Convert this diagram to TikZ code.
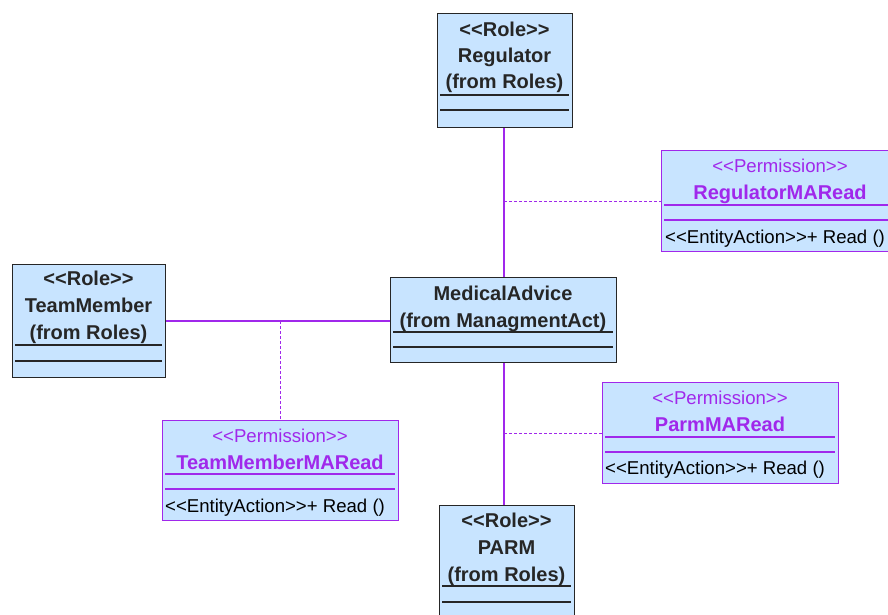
\documentclass[tikz,border=0pt]{standalone}
\usepackage{fontspec}
\setmainfont{Liberation Sans}[Ligatures=TeXOff]
\begin{document}
\begin{tikzpicture}[x=1pt,y=-1pt,
  roleb/.style={draw=black!85, line width=1.2pt, fill=boxfill, anchor=north west, inner sep=0pt},
  permb/.style={draw=umlpurple, line width=1.2pt, fill=boxfill, anchor=north west, inner sep=0pt},
  rtxt/.style={font=\bfseries\fontsize{20}{20}\selectfont, text=black!85, inner sep=0pt, anchor=base},
  ptitle/.style={font=\bfseries\fontsize{20}{20}\selectfont, text=umlpurple, inner sep=0pt, anchor=base},
  pster/.style={font=\fontsize{18.6}{20}\selectfont, text=umlpurple, inner sep=0pt, anchor=base},
  ptxt/.style={font=\fontsize{18.6}{20}\selectfont, text=black, inner sep=0pt, anchor=base west},
  rsep/.style={draw=black!85, line width=1.1pt},
  psep/.style={draw=umlpurple, line width=1.1pt},
  assoc/.style={draw=umlpurple, line width=1.1pt},
  dep/.style={draw=umlpurple, line width=0.9pt, dash pattern=on 3pt off 2pt}]
\definecolor{boxfill}{RGB}{200,228,255}
\definecolor{umlpurple}{RGB}{160,40,235}
\useasboundingbox (0,0) rectangle (888,615);
\clip (0,0) rectangle (888,615);
\fill[white] (0,0) rectangle (888,615);

\coordinate (j1) at (504,201);
\coordinate (j2) at (280,321);
\coordinate (j3) at (504,433);

% boxes
\node[roleb, minimum width=135pt, minimum height=114pt] (reg) at (437,13) {};
\node[permb, minimum width=240pt, minimum height=101pt] (regp) at (661,150) {};
\node[roleb, minimum width=226pt, minimum height=85pt] (ma) at (390,277) {};
\node[roleb, minimum width=153pt, minimum height=113pt] (tm) at (12,264) {};
\node[permb, minimum width=236pt, minimum height=100pt] (tmp) at (162,420) {};
\node[permb, minimum width=236pt, minimum height=101pt] (pp) at (602,382) {};
\node[roleb, minimum width=135pt, minimum height=130pt] (parm) at (439,505) {};

% associations
\draw[assoc] (reg.south -| j1) -- (ma.north -| j1);
\draw[assoc] (ma.south -| j3) -- (parm.north -| j3);
\draw[assoc] (tm.east |- j2) -- (ma.west |- j2);
% dependencies
\draw[dep] (j1) -- (regp.west |- j1);
\draw[dep] (j2) -- (tmp.north -| j2);
\draw[dep] (j3) -- (pp.west |- j3);

% Regulator
\node[rtxt] (regt1) at (504.5,37) {<<Role>>};
\node[rtxt] (regt2) at (504.5,63) {Regulator};
\node[rtxt] (regt3) at (504.5,89) {(from Roles)};
\draw[rsep] (440,95) -- (569,95);
\draw[rsep] (440,110) -- (569,110);

% RegulatorMARead
\node[pster] (rpt1) at (780,172) {<<Permission>>};
\node[ptitle] (rpt2) at (780,199) {RegulatorMARead};
\draw[psep] (664,205) -- (898,205);
\draw[psep] (664,220) -- (898,220);
\node[ptxt] (rpt3) at (665,243) {<<EntityAction>>+ Read ()};

% MedicalAdvice
\node[rtxt] (mat1) at (503,300) {MedicalAdvice};
\node[rtxt] (mat2) at (503,327) {(from ManagmentAct)};
\draw[rsep] (393,332) -- (613,332);
\draw[rsep] (393,347) -- (613,347);

% TeamMember
\node[rtxt] (tmt1) at (88.5,285) {<<Role>>};
\node[rtxt] (tmt2) at (88.5,312) {TeamMember};
\node[rtxt] (tmt3) at (88.5,339) {(from Roles)};
\draw[rsep] (15,345) -- (162,345);
\draw[rsep] (15,361) -- (162,361);

% TeamMemberMARead
\node[pster] (tpt1) at (280,442) {<<Permission>>};
\node[ptitle] (tpt2) at (280,469) {TeamMemberMARead};
\draw[psep] (165,474) -- (395,474);
\draw[psep] (165,489) -- (395,489);
\node[ptxt] (tpt3) at (165,512) {<<EntityAction>>+ Read ()};

% ParmMARead
\node[pster] (ppt1) at (720,404) {<<Permission>>};
\node[ptitle] (ppt2) at (720,431) {ParmMARead};
\draw[psep] (605,437) -- (835,437);
\draw[psep] (605,452) -- (835,452);
\node[ptxt] (ppt3) at (605,474) {<<EntityAction>>+ Read ()};

% PARM
\node[rtxt] (pt1) at (506.5,527) {<<Role>>};
\node[rtxt] (pt2) at (506.5,554) {PARM};
\node[rtxt] (pt3) at (506.5,581) {(from Roles)};
\draw[rsep] (442,586) -- (571,586);
\draw[rsep] (442,602) -- (571,602);
\end{tikzpicture}
\end{document}
